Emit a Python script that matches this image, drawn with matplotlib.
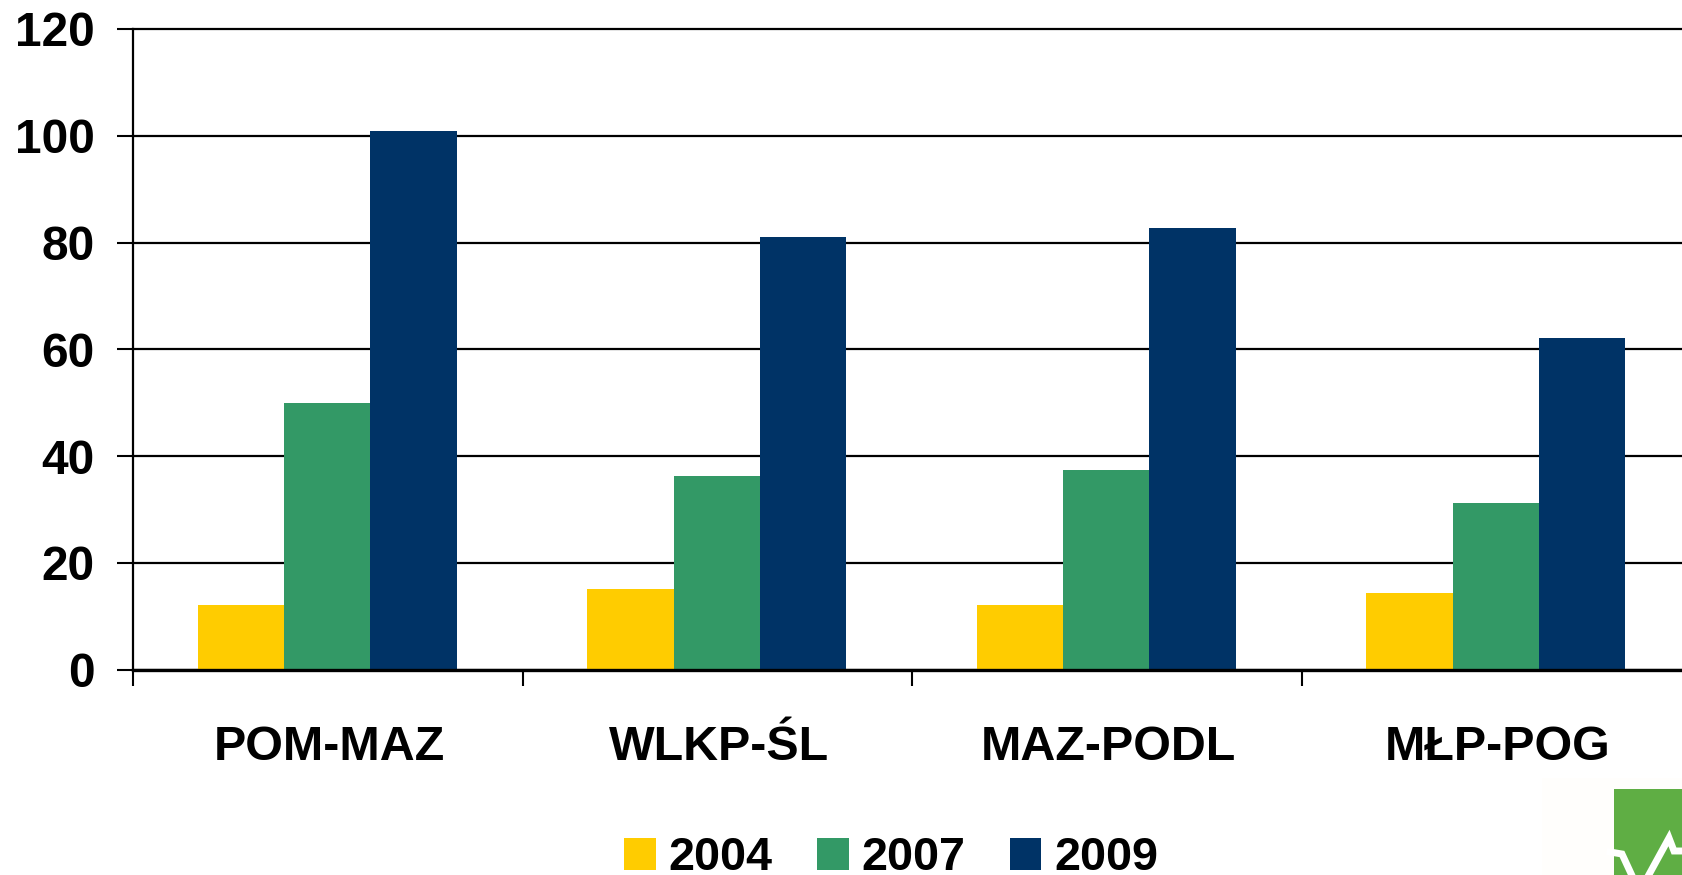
import matplotlib.pyplot as plt
from matplotlib.patches import Rectangle
import numpy as np

plt.rcParams["font.family"] = ["Liberation Sans", "DejaVu Sans"]
plt.rcParams["font.weight"] = "bold"

categories = ["POM-MAZ", "WLKP-ŚL", "MAZ-PODL", "MŁP-POG"]
years = ["2004", "2007", "2009"]
values_2004 = [12, 15, 12, 14.3]
values_2007 = [50, 36.2, 37.4, 31.2]
values_2009 = [100.9, 81, 82.8, 62.1]
y_ticks = [0, 20, 40, 60, 80, 100, 120]

colors = ["#FFCC00", "#339966", "#003366"]
W, H = 1682, 875

fig = plt.figure(figsize=(W / 100, H / 100), dpi=100)
ax = fig.add_axes([133 / W, 1 - 669.5 / H, (W - 133) / W, (669.5 - 29) / H])

x = np.arange(len(categories)) + 0.5
width = 0.2215
series = [values_2004, values_2007, values_2009]
for i, vals in enumerate(series):
    ax.bar(x - 0.001 + (i - 1) * width, vals, width, color=colors[i], label=years[i], zorder=3)

ax.set_xlim(0, (W - 133) / 389.5)
ax.set_ylim(0, 120)

ax.set_yticks(y_ticks)
ax.tick_params(axis="y", length=11.5, width=1.5, pad=16, labelsize=34.5)
ax.grid(axis="y", color="black", linewidth=1.6, zorder=1)
ax.set_axisbelow(True)
for line in ax.get_ygridlines():
    line.set_clip_on(False)

ax.set_xticks(range(len(categories)))
ax.set_xticklabels([])
# labels sit a touch right of the group centre
ax.set_xticks(x + 0.004, minor=True)
ax.set_xticklabels(categories, minor=True, fontsize=34.8)
ax.tick_params(axis="x", which="major", length=11.5, width=1.5)
ax.tick_params(axis="x", which="minor", length=0, pad=40)

for name in ["top", "right"]:
    ax.spines[name].set_visible(False)
ax.spines["left"].set_linewidth(1.6)
ax.spines["bottom"].set_linewidth(2.4)
ax.spines["bottom"].set_zorder(5)

ax.legend(
    loc="center",
    bbox_to_anchor=(891 / W, 1 - 858 / H),
    bbox_transform=fig.transFigure,
    ncol=3,
    frameon=False,
    fontsize=33.7,
    handlelength=0.68,
    handleheight=0.68,
    handletextpad=0.27,
    columnspacing=0.95,
    borderpad=0,
)

# logo in the bottom right corner, pixel coordinates
logo = fig.add_axes([0, 0, 1, 1], zorder=6)
logo.set_xlim(0, W)
logo.set_ylim(H, 0)
logo.axis("off")
logo.add_patch(Rectangle((1542, 778), W - 1542, H - 778, color="#FFFEFC", lw=0))
logo.add_patch(Rectangle((1614, 789), W - 1614, H - 789, color="#5FAE44", lw=0))
logo.plot(
    [1610, 1622, 1634, 1646, 1669, 1674, 1690],
    [852, 854, 880, 880, 838, 851, 851],
    color="white",
    linewidth=5,
    solid_joinstyle="miter",
)

fig.savefig("out.png", dpi=100)
